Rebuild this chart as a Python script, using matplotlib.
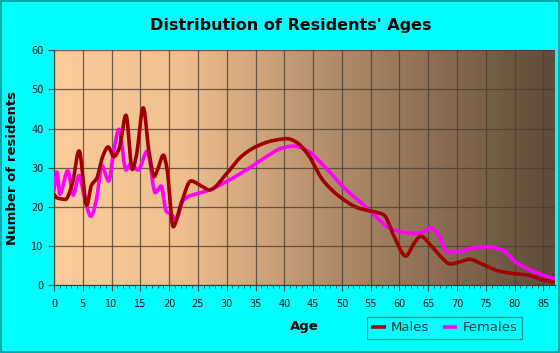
import numpy as np
import matplotlib
matplotlib.use("Agg")
import matplotlib.pyplot as plt
from matplotlib.colors import LinearSegmentedColormap
from matplotlib.patches import Rectangle

# Data (age, number of residents)
male_age = [0, 0.5, 2.0, 3.2, 4.35, 5.7, 6.5, 7.4, 8.5, 9.4, 10.4, 11.3, 12.5, 13.6,
            14.3, 15.5, 16.5, 17.4, 18.0, 19.0, 19.6, 20.7, 22, 23.8, 25.5, 27, 30,
            32.5, 35, 38, 40.5, 42, 44, 46.7, 49.6, 53, 56, 57.3, 59.1, 61.1, 62.5,
            63.7, 65.4, 67.2, 68.8, 70.7, 72.1, 74.1, 77, 79.3, 82.2, 84.6, 87]
male_count = [23.2, 22.3, 21.9, 26, 34.3, 20.4, 25.5, 27.2, 33, 35.3, 32.8, 34.8, 43.4, 29.5,
              33, 45.3, 34, 27.7, 29.5, 33.2, 30, 14.9, 20.5, 26.6, 25.4, 24.3, 28.5,
              32.8, 35.3, 36.9, 37.4, 36.6, 33.6, 26.8, 22.6, 19.6, 18.6, 17.9, 12.3, 7.4, 10.6,
              12.5, 10.2, 7.2, 5.4, 6.0, 6.6, 5.5, 3.7, 3.0, 2.6, 1.4, 0.7]

female_age = [0, 0.5, 1.0, 2.4, 3.35, 4.35, 5.2, 6.4, 7.4, 8.3, 9.5, 10.4, 11.3, 12.5,
              13.3, 14.6, 16.2, 17.6, 18.6, 19.5, 20.3, 21.2, 22.4, 23.6, 25.3, 27, 29.9,
              33.4, 36.9, 39.8, 41.8, 43.8, 47.3, 50.2, 53.5, 55.6, 57.9, 60.2, 62.5, 64.3,
              65.4, 66.6, 68.3, 70.1, 72.4, 75.3, 77.6, 80.5, 83.4, 87]
female_count = [24, 28.9, 23.2, 29.2, 23, 28, 23, 17.6, 22, 30.5, 26.6, 34.5, 39.8, 29.4,
                31, 29.4, 34.2, 23.6, 25.3, 18.8, 18.2, 16.8, 21.5, 22.8, 23.5, 24.3, 26.4,
                29.4, 32.8, 35.1, 35.5, 34.5, 29.8, 25.1, 20.8, 17.9, 14.9, 13.6, 13.2, 13.6,
                14.7, 13.2, 8.5, 8.5, 9.4, 9.8, 9.1, 5.5, 3.4, 1.5]


def smooth(x, y, n=20):
    # monotone cubic hermite, only used to draw a rounded line through the points
    x = np.asarray(x, float)
    y = np.asarray(y, float)
    h = np.diff(x)
    d = np.diff(y) / h
    m = np.zeros_like(y)
    m[0], m[-1] = d[0], d[-1]
    for i in range(1, len(y) - 1):
        if d[i - 1] * d[i] > 0:
            w1 = 2 * h[i] + h[i - 1]
            w2 = h[i] + 2 * h[i - 1]
            m[i] = (w1 + w2) / (w1 / d[i - 1] + w2 / d[i])
    xs, ys = [], []
    for i in range(len(h)):
        t = np.linspace(0, 1, n, endpoint=False)
        h00 = 2 * t**3 - 3 * t**2 + 1
        h10 = t**3 - 2 * t**2 + t
        h01 = -2 * t**3 + 3 * t**2
        h11 = t**3 - t**2
        xs.append(x[i] + t * h[i])
        ys.append(h00 * y[i] + h10 * h[i] * m[i] + h01 * y[i + 1] + h11 * h[i] * m[i + 1])
    xs.append([x[-1]])
    ys.append([y[-1]])
    return np.concatenate(xs), np.concatenate(ys)


bg = "#00ffff"
fig = plt.figure(figsize=(5.6, 3.53), dpi=100, facecolor=bg)
fig.patches.append(Rectangle((0.002, 0.003), 0.996, 0.994, transform=fig.transFigure,
                             fill=False, edgecolor="#009a9a", linewidth=1.2))

ax = fig.add_axes([0.0964, 0.1926, 0.8946, 0.665])
ax.set_xlim(0, 87)
ax.set_ylim(0, 60)

cmap = LinearSegmentedColormap.from_list(
    "bg", [(0, "#fdcc9b"), (0.25, "#f0bf8e"), (0.55, "#b38d6a"), (1, "#5e4b39")])
grad = np.linspace(0, 1, 256).reshape(1, -1)
ax.imshow(grad, cmap=cmap, aspect="auto", extent=[0, 87, 0, 60], zorder=0)

ax.set_xticks(np.arange(0, 90, 5))
ax.set_xticks(np.arange(0, 88, 1), minor=True)
ax.set_yticks(np.arange(0, 70, 10))
ax.grid(True, which="major", color="#4a4035", linewidth=0.9, alpha=0.8, zorder=1)
ax.set_axisbelow(False)

mx, my = smooth(male_age, male_count)
fx, fy = smooth(female_age, female_count)
ax.plot(fx, fy, color="#ff00ff", linewidth=2.6, label="Females", zorder=3, solid_capstyle="butt")
ax.plot(mx, my, color="#a00000", linewidth=2.6, label="Males", zorder=4, solid_capstyle="butt")

for s in ["top", "right"]:
    ax.spines[s].set_visible(False)
for s in ["left", "bottom"]:
    ax.spines[s].set_color("#1a4a4a")
    ax.spines[s].set_linewidth(0.8)

ax.tick_params(axis="both", which="major", length=4, width=0.8, color="#1a4a4a",
               labelsize=7, labelcolor="#111111")
ax.tick_params(axis="x", which="minor", length=2.5, width=0.6, color="#1a4a4a")
ax.tick_params(axis="x", pad=6)

ax.set_xlabel("Age", fontsize=9.5, fontweight="bold", labelpad=8)
ax.set_ylabel("Number of residents", fontsize=9.5, fontweight="bold", labelpad=9)
fig.text(0.52, 0.928, "Distribution of Residents' Ages", ha="center", va="center",
         fontsize=11.5, fontweight="bold")

h, l = ax.get_legend_handles_labels()
leg = fig.legend([h[1], h[0]], [l[1], l[0]], loc="lower left",
                 bbox_to_anchor=(0.655, 0.04, 0.277, 0.065), mode="expand", ncol=2,
                 fontsize=9.5, frameon=True, fancybox=False, handlelength=1.1,
                 handletextpad=0.4, columnspacing=1.6, borderpad=0.35, borderaxespad=0)
leg.get_frame().set_facecolor(bg)
leg.get_frame().set_edgecolor("#008080")
leg.get_frame().set_linewidth(0.9)
for t in leg.get_texts():
    t.set_color("#0a3a3a")

fig.savefig("out.png", dpi=100, facecolor=bg)
